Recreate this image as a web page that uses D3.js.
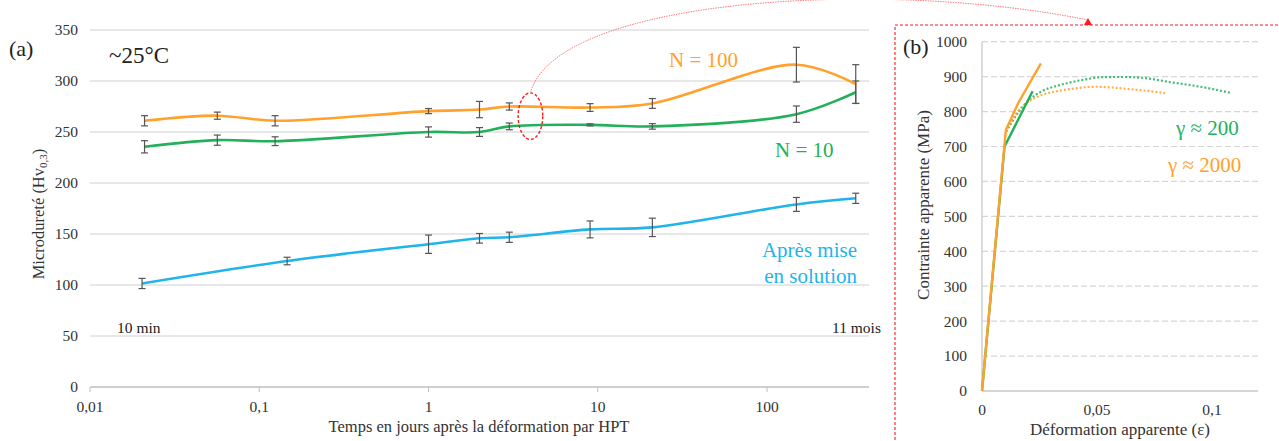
<!DOCTYPE html>
<html><head><meta charset="utf-8">
<script src="https://cdn.jsdelivr.net/npm/d3@7"></script>
<style>body{margin:0;background:#fff;} text{font-family:"Liberation Serif","Times New Roman",serif;}</style>
</head><body>
<svg id="c" width="1279" height="441"></svg>
<script>
// ---------- Panel (a) data ----------
const daysA = [0.021, 0.0565, 0.124, 1, 2, 3, 9, 21, 149, 334];
const n100 = [261, 266, 261, 270.5, 272, 275, 274, 278, 316, 297];
const n100Err = [5, 3.5, 5, 2.5, 8, 3.5, 3.8, 4.8, 17, 19];
const n10 = [235.5, 242, 241, 250, 250, 255.5, 257, 255.5, 267.5, 289];
const n10Err = [6, 5, 4.3, 5, 4.3, 3.3, 1, 2.7, 8, 11];
const daysSol = [0.0203, 0.146, 1, 2, 3, 9, 21, 149, 334];
const sol = [101.5, 123.5, 140, 145.8, 146.8, 154.5, 156.5, 179, 185];
const solErr = [5, 3.7, 9, 4.7, 5, 8.3, 9, 6.8, 5];
const xTicksA = [0.01, 0.1, 1, 10, 100];
const xTickLabelsA = ["0,01", "0,1", "1", "10", "100"];
const yTicksA = [0, 50, 100, 150, 200, 250, 300, 350];

// ---------- Panel (b) data ----------
const strain200 = [0, 0.0098, 0.022];
const stress200 = [0, 700, 858];
const strain2000 = [0, 0.0097, 0.0104, 0.0157, 0.0256];
const stress2000 = [0, 700, 748, 824, 938];
const strain200dot = [0.0105, 0.016, 0.021, 0.026, 0.034, 0.045, 0.051, 0.06, 0.069, 0.083, 0.095, 0.1085];
const stress200dot = [742, 800, 836, 858, 876, 892, 898, 899, 897, 883, 871, 853];
const strain2000dot = [0.011, 0.015, 0.02, 0.025, 0.034, 0.04, 0.05, 0.063, 0.0796];
const stress2000dot = [752, 795, 828, 845, 860, 866, 871, 865, 853];
const xTicksB = [0, 0.05, 0.1];
const xTickLabelsB = ["0", "0,05", "0,1"];
const yTicksB = [0,100,200,300,400,500,600,700,800,900,1000];

const ORANGE = "#FFA12A", GREEN = "#22B15A", BLUE = "#1FB4EA", RED = "#FF1A1A";
const svg = d3.select("#c");

// ===== Panel (a) =====
const xA = d3.scaleLog().domain([0.01, 400]).range([90, 869]);
const yA = d3.scaleLinear().domain([0, 350]).range([387, 30]);

const gA = svg.append("g");
gA.selectAll("line.grid").data(yTicksA.filter(d => d > 0)).enter().append("line")
  .attr("x1", xA.range()[0]).attr("x2", xA.range()[1])
  .attr("y1", d => yA(d)).attr("y2", d => yA(d))
  .attr("stroke", "#d0d0d0").attr("stroke-width", 1);
gA.append("line").attr("x1", xA.range()[0]).attr("x2", xA.range()[1])
  .attr("y1", yA(0)).attr("y2", yA(0)).attr("stroke", "#bfbfbf").attr("stroke-width", 1.3);
gA.selectAll("line.xt").data(xTicksA).enter().append("line")
  .attr("x1", d => xA(d)).attr("x2", d => xA(d))
  .attr("y1", yA(0)).attr("y2", yA(0) + 5).attr("stroke", "#bfbfbf");
gA.selectAll("text.yl").data(yTicksA).enter().append("text")
  .attr("x", 78).attr("y", d => yA(d)).attr("dy", "0.35em").attr("text-anchor", "end")
  .attr("font-size", 15.5).attr("fill", "#333").text(d => d);
gA.selectAll("text.xl").data(xTicksA).enter().append("text")
  .attr("x", d => xA(d)).attr("y", 412).attr("text-anchor", "middle")
  .attr("font-size", 15.5).attr("fill", "#333").text((d, i) => xTickLabelsA[i]);
gA.append("text").attr("x", 479).attr("y", 432).attr("text-anchor", "middle")
  .attr("font-size", 16.5).attr("fill", "#333").text("Temps en jours après la déformation par HPT");
const yt = gA.append("text").attr("transform", "translate(44,214) rotate(-90)")
  .attr("text-anchor", "middle").attr("font-size", 16.5).attr("fill", "#333");
yt.append("tspan").text("Microdureté (Hv");
yt.append("tspan").attr("font-size", 11).attr("dy", 3).text("0,3");
yt.append("tspan").attr("dy", -3).text(")");

const lineA = d3.line().x(d => xA(d[0])).y(d => yA(d[1])).curve(d3.curveCatmullRom.alpha(0.5));
function series(xs, ys, errs, color) {
  const pts = xs.map((x, i) => [x, ys[i]]);
  gA.append("path").datum(pts).attr("d", lineA).attr("fill", "none")
    .attr("stroke", color).attr("stroke-width", 2.6);
  const eb = gA.append("g").attr("stroke", "#555").attr("stroke-width", 1.2);
  xs.forEach((x, i) => {
    const cx = xA(x), y1 = yA(ys[i] + errs[i]), y2 = yA(ys[i] - errs[i]);
    eb.append("line").attr("x1", cx).attr("x2", cx).attr("y1", y1).attr("y2", y2);
    eb.append("line").attr("x1", cx - 3.5).attr("x2", cx + 3.5).attr("y1", y1).attr("y2", y1);
    eb.append("line").attr("x1", cx - 3.5).attr("x2", cx + 3.5).attr("y1", y2).attr("y2", y2);
  });
}
series(daysSol, sol, solErr, BLUE);
series(daysA, n10, n10Err, GREEN);
series(daysA, n100, n100Err, ORANGE);

gA.append("text").attr("x", 9).attr("y", 56).attr("font-size", 22).attr("fill", "#222").text("(a)");
gA.append("text").attr("x", 109).attr("y", 63).attr("font-size", 23).attr("fill", "#222").text("~25°C");
gA.append("text").attr("x", 669).attr("y", 67).attr("font-size", 21).attr("fill", ORANGE).text("N = 100");
gA.append("text").attr("x", 775).attr("y", 157).attr("font-size", 21).attr("fill", GREEN).text("N = 10");
gA.append("text").attr("x", 857).attr("y", 257).attr("text-anchor", "end").attr("font-size", 21).attr("fill", BLUE).text("Après mise");
gA.append("text").attr("x", 857).attr("y", 283).attr("text-anchor", "end").attr("font-size", 21).attr("fill", BLUE).text("en solution");
gA.append("text").attr("x", 117).attr("y", 333).attr("font-size", 15.5).attr("fill", "#222").text("10 min");
gA.append("text").attr("x", 832).attr("y", 333).attr("font-size", 15.5).attr("fill", "#222").text("11 mois");

// ===== Panel (b) =====
const xB = d3.scaleLinear().domain([0, 0.12]).range([982, 1258]);
const yB = d3.scaleLinear().domain([0, 1000]).range([391, 41.7]);
const gB = svg.append("g");
gB.selectAll("line.g").data(yTicksB.filter(d => d > 0)).enter().append("line")
  .attr("x1", xB(0)).attr("x2", xB.range()[1]).attr("y1", d => yB(d)).attr("y2", d => yB(d))
  .attr("stroke", "#d6d6d6").attr("stroke-width", 1.2).attr("stroke-dasharray", "6,3");
gB.append("line").attr("x1", xB(0)).attr("x2", xB.range()[1]).attr("y1", yB(0)).attr("y2", yB(0))
  .attr("stroke", "#c8c8c8").attr("stroke-width", 1.3);
gB.append("line").attr("x1", xB(0)).attr("x2", xB(0)).attr("y1", yB(0)).attr("y2", yB(1000))
  .attr("stroke", "#c8c8c8").attr("stroke-width", 1.3);
gB.selectAll("text.yl").data(yTicksB).enter().append("text")
  .attr("x", 967).attr("y", d => yB(d)).attr("dy", "0.35em").attr("text-anchor", "end")
  .attr("font-size", 15.5).attr("fill", "#333").text(d => d);
gB.selectAll("text.xl").data(xTicksB).enter().append("text")
  .attr("x", d => xB(d)).attr("y", 415).attr("text-anchor", "middle")
  .attr("font-size", 15.5).attr("fill", "#333").text((d, i) => xTickLabelsB[i]);
gB.append("text").attr("x", 1120).attr("y", 435).attr("text-anchor", "middle")
  .attr("font-size", 17).attr("fill", "#333").text("Déformation apparente (ε)");
gB.append("text").attr("transform", "translate(929,205) rotate(-90)").attr("text-anchor", "middle")
  .attr("font-size", 17).attr("fill", "#333").text("Contrainte apparente (MPa)");

const lineB = d3.line().x(d => xB(d[0])).y(d => yB(d[1]));
const lineBs = d3.line().x(d => xB(d[0])).y(d => yB(d[1])).curve(d3.curveMonotoneX);
const zip = (a, b) => a.map((v, i) => [v, b[i]]);
gB.append("path").datum(zip(strain200dot, stress200dot)).attr("d", lineBs).attr("fill", "none")
  .attr("stroke", GREEN).attr("stroke-width", 2.2).attr("stroke-dasharray", "2,2").attr("opacity", 0.85);
gB.append("path").datum(zip(strain2000dot, stress2000dot)).attr("d", lineBs).attr("fill", "none")
  .attr("stroke", ORANGE).attr("stroke-width", 2.2).attr("stroke-dasharray", "2,2").attr("opacity", 0.85);
gB.append("path").datum(zip(strain200, stress200)).attr("d", lineB).attr("fill", "none")
  .attr("stroke", GREEN).attr("stroke-width", 2.4);
gB.append("path").datum(zip(strain2000, stress2000)).attr("d", lineB).attr("fill", "none")
  .attr("stroke", ORANGE).attr("stroke-width", 2.4);
gB.append("text").attr("x", 903).attr("y", 54).attr("font-size", 22).attr("fill", "#222").text("(b)");
gB.append("text").attr("x", 1176).attr("y", 135).attr("font-size", 21).attr("fill", GREEN).text("γ ≈ 200");
gB.append("text").attr("x", 1168).attr("y", 172).attr("font-size", 21).attr("fill", ORANGE).text("γ ≈ 2000");

// ===== Annotations =====
const ell = {x: xA(4), y: yA(265.5), rx: 12.3, ry: 23.3};
const box = {x: 895, y: 25};
const arrowX = 1088;
svg.append("rect").attr("x", box.x).attr("y", box.y).attr("width", 420).attr("height", 440)
  .attr("fill", "none").attr("stroke", RED).attr("stroke-width", 1.1).attr("stroke-dasharray", "3,2");
svg.append("ellipse").attr("cx", ell.x).attr("cy", ell.y).attr("rx", ell.rx).attr("ry", ell.ry)
  .attr("fill", "none").attr("stroke", RED).attr("stroke-width", 1.4).attr("stroke-dasharray", "3,2");
const p = d3.path();
p.moveTo(ell.x, ell.y - ell.ry);
p.bezierCurveTo(ell.x + 25, -2, 880, -22, arrowX, box.y - 5);
svg.append("path").attr("d", p.toString()).attr("fill", "none").attr("stroke", "#ff7a7a")
  .attr("stroke-width", 1).attr("stroke-dasharray", "1.5,1");
svg.append("path").attr("d", `M${arrowX},${box.y - 7}L${arrowX - 4},${box.y}L${arrowX + 4},${box.y}Z`).attr("fill", RED);
</script>
</body></html>
